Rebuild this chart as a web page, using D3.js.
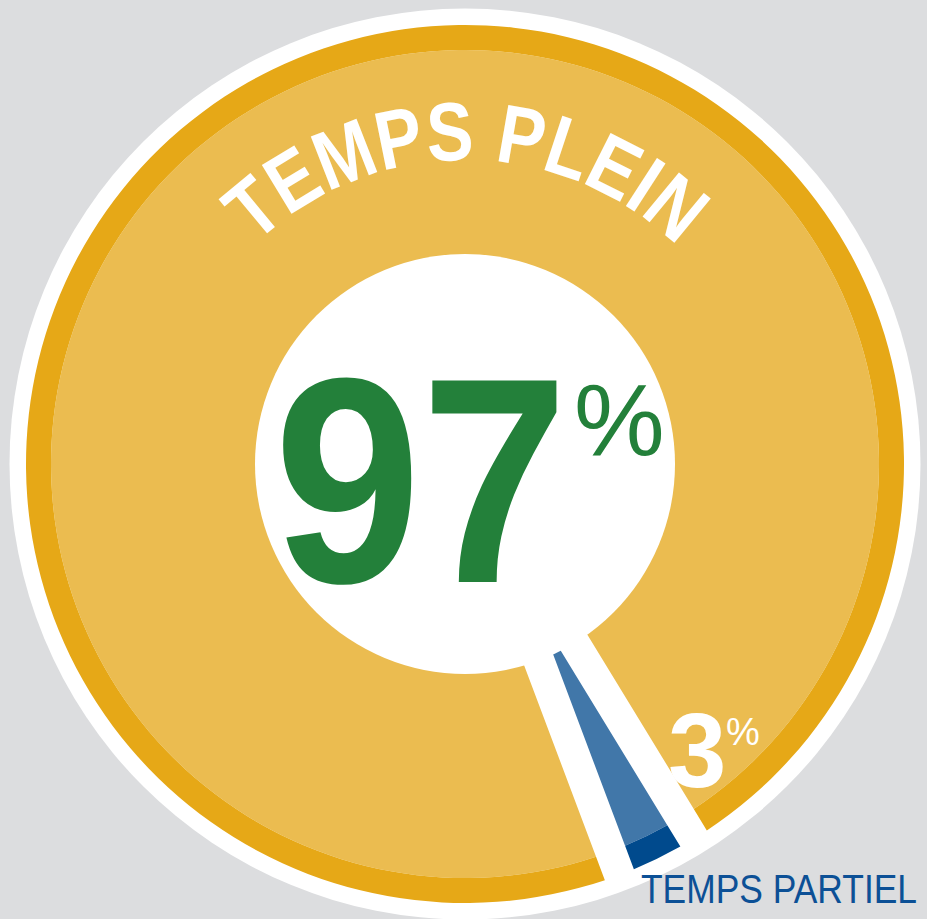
<!DOCTYPE html>
<html>
<head>
<meta charset="utf-8">
<script src="https://cdn.jsdelivr.net/npm/d3@7"></script>
<style>
  html, body { margin: 0; padding: 0; background: #dcdddf; }
  svg { display: block; }
</style>
</head>
<body>
<div id="chart"></div>
<script>
const width = 927
const height = 919

// data
const categories = ["TEMPS PLEIN", "TEMPS PARTIEL"]
const values = [97, 3]
const bigLabel = "97"
const smallLabel = "3"

const cx = 465
const cy = 464
const innerR = 206
const midR = 414
const outerR = 439
const frameR = 455.5

const fillColors = ["#ebbc50", "#4177a9"]
const ringColors = ["#e6a817", "#004a8d"]

const svg = d3.select("#chart").append("svg")
    .attr("width", width)
    .attr("height", height)

svg.append("rect").attr("width", width).attr("height", height).attr("fill", "#dcdddf")

let g = svg.append("g").attr("transform", `translate(${cx}, ${cy})`)

g.append("circle").attr("r", frameR).attr("fill", "#ffffff")

const deg = Math.PI / 180
const padR = outerR
const padAngle = 2 * Math.asin(15.5 / padR)   // white gap of constant width between slices

let pie = d3.pie().sort(null)
    .startAngle(159.4 * deg)
    .endAngle(159.4 * deg + 2 * Math.PI)

let arcs = pie(values)

let innerArc = d3.arc().innerRadius(innerR).outerRadius(midR).padAngle(padAngle).padRadius(padR)
let ringArc = d3.arc().innerRadius(midR).outerRadius(outerR).padAngle(padAngle).padRadius(padR)

g.selectAll("path.fill").data(arcs).enter().append("path")
    .attr("class", "fill")
    .attr("d", innerArc)
    .attr("fill", (d, i) => fillColors[i])

g.selectAll("path.ring").data(arcs).enter().append("path")
    .attr("class", "ring")
    .attr("d", ringArc)
    .attr("fill", (d, i) => ringColors[i])

g.append("circle").attr("r", 210).attr("fill", "#ffffff")

// curved title, one letter at a time along the arc
const titleSize = 83
const ctx = document.createElement("canvas").getContext("2d")
ctx.font = `bold ${titleSize}px 'Liberation Sans'`
const letters = categories[0].split("")
const widths = letters.map(c => ctx.measureText(c).width)
const total = d3.sum(widths)
const baseR = 304
const spanLen = 88 * deg * baseR
const k = spanLen / total
let cum = 0
letters.forEach((c, i) => {
    const mid = (cum + widths[i] / 2) * k
    cum += widths[i]
    const a = (mid - spanLen / 2) / baseR / deg + 0.3
    if (c === " ") return
    g.append("text")
        .attr("transform", `rotate(${a}) translate(0, ${-baseR}) scale(${k}, 1)`)
        .attr("text-anchor", "middle")
        .attr("font-family", "'Liberation Sans', Arial, sans-serif")
        .attr("font-weight", "bold")
        .attr("font-size", titleSize)
        .attr("fill", "#ffffff")
        .text(c)
})

// center value
svg.append("text")
    .attr("x", 274).attr("y", 582)
    .attr("font-family", "'Liberation Sans', Arial, sans-serif")
    .attr("font-weight", "bold")
    .attr("font-size", 293)
    .attr("textLength", 294)
    .attr("lengthAdjust", "spacingAndGlyphs")
    .attr("fill", "#23803a")
    .text(bigLabel)

svg.append("text")
    .attr("x", 574).attr("y", 455)
    .attr("font-family", "'Liberation Sans', Arial, sans-serif")
    .attr("font-size", 102)
    .attr("fill", "#23803a")
    .text("%")

// small slice value
svg.append("text")
    .attr("x", 668).attr("y", 787)
    .attr("font-family", "'Liberation Sans', Arial, sans-serif")
    .attr("font-weight", "bold")
    .attr("font-size", 105)
    .attr("fill", "#ffffff")
    .text(smallLabel)

svg.append("text")
    .attr("x", 726).attr("y", 745)
    .attr("font-family", "'Liberation Sans', Arial, sans-serif")
    .attr("font-size", 38)
    .attr("fill", "#ffffff")
    .text("%")

svg.append("text")
    .attr("x", 641).attr("y", 903)
    .attr("font-family", "'Liberation Sans', Arial, sans-serif")
    .attr("font-size", 41)
    .attr("textLength", 276)
    .attr("lengthAdjust", "spacingAndGlyphs")
    .attr("fill", "#0c5096")
    .text(categories[1])
</script>
</body>
</html>
